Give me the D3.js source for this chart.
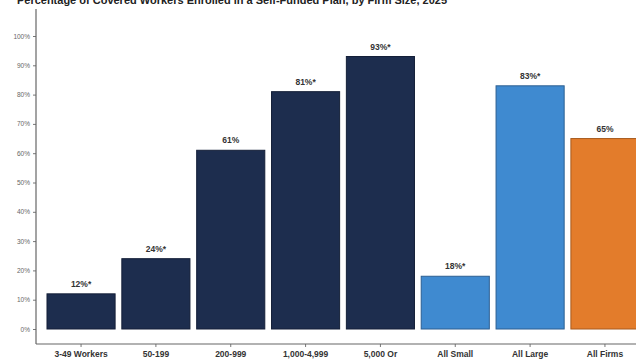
<!DOCTYPE html>
<html><head><meta charset="utf-8">
<script src="https://cdn.jsdelivr.net/npm/d3@7"></script>
<style>body{margin:0;background:#fff}svg{display:block}</style>
</head><body>
<svg id="c" width="636" height="360"></svg>
<script>
const categories = ["3-49 Workers","50-199","200-999","1,000-4,999","5,000 Or More","All Small","All Large","All Firms"];
const values = [12,24,61,81,93,18,83,65];
const valueLabels = ["12%*","24%*","61%","81%*","93%*","18%*","83%*","65%"];
const groups = ["size","size","size","size","size","small","large","all"];
const yTicks = [0,10,20,30,40,50,60,70,80,90,100];
const title = "Percentage of Covered Workers Enrolled in a Self-Funded Plan, by Firm Size, 2025";

const colors = {size:"#1d2d4e", small:"#3f8ad0", large:"#3f8ad0", all:"#e37c2b"};
const strokes = {size:"#141f38", small:"#2c5f92", large:"#2c5f92", all:"#a85a1e"};

const svg = d3.select("#c");
const x = d3.scaleBand().domain(categories).range([44, 642]).paddingInner(0.09).paddingOuter(0.04);
const y = d3.scaleLinear().domain([0,100]).range([329,36]);

svg.append("text").attr("x", 232).attr("y", 4).attr("text-anchor","middle")
  .attr("font-family","Liberation Sans, Arial, sans-serif").attr("font-weight","bold")
  .attr("font-size", 11).attr("fill","#222").text(title);

// y axis
const ya = svg.append("g").attr("transform","translate(36,0)")
  .call(d3.axisLeft(y).tickValues(yTicks).tickFormat(d=>d+"%").tickSize(3).tickPadding(3));
ya.select(".domain").remove();
ya.selectAll("text").attr("font-family","Liberation Sans, Arial, sans-serif").attr("font-size",6.5).attr("fill","#666");
ya.selectAll("line").attr("stroke","#777");
svg.append("line").attr("x1",36).attr("x2",36).attr("y1",9).attr("y2",344).attr("stroke","#666").attr("stroke-width",1.2);

// x axis
const xa = svg.append("g").attr("transform","translate(0,344)")
  .call(d3.axisBottom(x).tickSize(3).tickPadding(4).tickFormat(()=>""));
xa.select(".domain").remove();
xa.selectAll("line").attr("stroke","#777");
xa.selectAll(".tick text").each(function(d){
  const t = d3.select(this).attr("font-family","Liberation Sans, Arial, sans-serif").attr("font-weight","bold")
    .attr("font-size",8.5).attr("fill","#333");
  const words = d.split(" ");
  const lines = d === "5,000 Or More" ? ["5,000 Or","More"] : [d];
  lines.forEach((l,i)=>t.append("tspan").attr("x",0).attr("dy", i===0 ? "0.71em" : "1.15em").text(l));
});
svg.append("line").attr("x1",36).attr("x2",636).attr("y1",344).attr("y2",344).attr("stroke","#666").attr("stroke-width",1.2);

// bars
svg.selectAll("rect.bar").data(categories).enter().append("rect").attr("class","bar")
  .attr("x", d=>x(d)).attr("width", x.bandwidth())
  .attr("y", (d,i)=>y(values[i])).attr("height",(d,i)=>y(0)-y(values[i]))
  .attr("fill",(d,i)=>colors[groups[i]]).attr("stroke",(d,i)=>strokes[groups[i]]).attr("stroke-width",1);

svg.selectAll("text.vl").data(categories).enter().append("text").attr("class","vl")
  .attr("x", d=>x(d)+x.bandwidth()/2).attr("y",(d,i)=>y(values[i])-7)
  .attr("text-anchor","middle").attr("font-family","Liberation Sans, Arial, sans-serif")
  .attr("font-weight","bold").attr("font-size",8.5).attr("fill","#333")
  .text((d,i)=>valueLabels[i]);
</script>
</body></html>
